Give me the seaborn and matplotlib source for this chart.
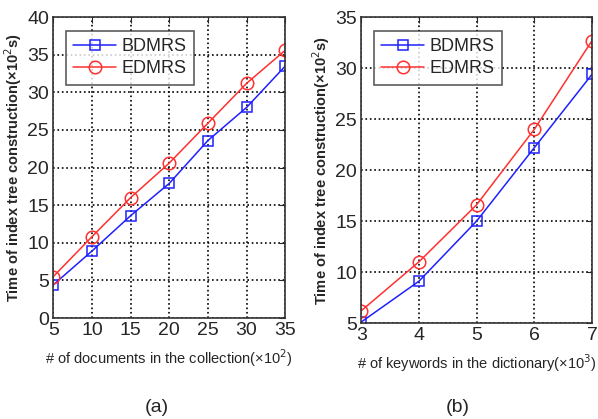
import matplotlib
matplotlib.use('Agg')
import matplotlib.pyplot as plt
import seaborn as sns

# Data
docs = [5, 10, 15, 20, 25, 30, 35]
docs_bdmrs = [4.4, 8.9, 13.6, 17.9, 23.6, 28.0, 33.5]
docs_edmrs = [5.5, 10.8, 16.0, 20.6, 25.9, 31.2, 35.6]

keywords = [3, 4, 5, 6, 7]
kw_bdmrs = [5.1, 9.1, 15.0, 22.2, 29.4]
kw_edmrs = [6.2, 11.0, 16.6, 24.0, 32.7]

sns.set_style('white')
plt.rcParams['font.family'] = ['Liberation Sans', 'DejaVu Sans']

fig = plt.figure(figsize=(5.98, 4.19), dpi=100)
ax1 = fig.add_axes([0.089, 0.241, 0.388, 0.718])
ax2 = fig.add_axes([0.604, 0.229, 0.386, 0.730])


def draw(ax, x, b, e):
    sns.lineplot(x=x, y=b, ax=ax, color='#2020ff', marker='s', markersize=7,
                 markerfacecolor='none', markeredgecolor='#2020ff', markeredgewidth=1.1,
                 linewidth=1.1, label='BDMRS')
    sns.lineplot(x=x, y=e, ax=ax, color='#ff3030', marker='o', markersize=9,
                 markerfacecolor='none', markeredgecolor='#ff3030', markeredgewidth=1.1,
                 linewidth=1.1, label='EDMRS')
    ax.grid(True, linestyle=':', color='black', linewidth=1.2)
    for s in ax.spines.values():
        s.set_color('#333333')
        s.set_linewidth(1.2)
    ax.tick_params(direction='in', labelsize=14, top=True, right=True, length=4, pad=3)
    leg = ax.legend(loc='upper left', fontsize=13, frameon=True, fancybox=False,
                    edgecolor='#333333', handlelength=2.4, borderpad=0.4,
                    labelspacing=0.3, handletextpad=0.3,
                    bbox_to_anchor=(0.015, 0.985))
    leg.get_frame().set_linewidth(1.2)


draw(ax1, docs, docs_bdmrs, docs_edmrs)
ax1.set_xlim(5, 35)
ax1.set_ylim(0, 40)
ax1.set_xticks(docs)
ax1.set_yticks(range(0, 41, 5))
ax1.set_xlabel('# of documents in the collection(×10$^2$)', fontsize=10.5, labelpad=6)
ax1.set_ylabel('Time of index tree construction(×10$^2$s)', fontsize=10.5,
               fontweight='bold', labelpad=2)

draw(ax2, keywords, kw_bdmrs, kw_edmrs)
ax2.set_xlim(3, 7)
ax2.set_ylim(5, 35)
ax2.set_xticks(keywords)
ax2.set_yticks(range(5, 36, 5))
ax2.set_xlabel('# of keywords in the dictionary(×10$^3$)', fontsize=10.5, labelpad=6)
ax2.set_ylabel('Time of index tree construction(×10$^2$s)', fontsize=10.5,
               fontweight='bold', labelpad=2)

fig.text(157 / 598, 1 - 407 / 419, '(a)', ha='center', va='center', fontsize=14)
fig.text(458 / 598, 1 - 407 / 419, '(b)', ha='center', va='center', fontsize=14)

fig.savefig('out.png', dpi=100)
